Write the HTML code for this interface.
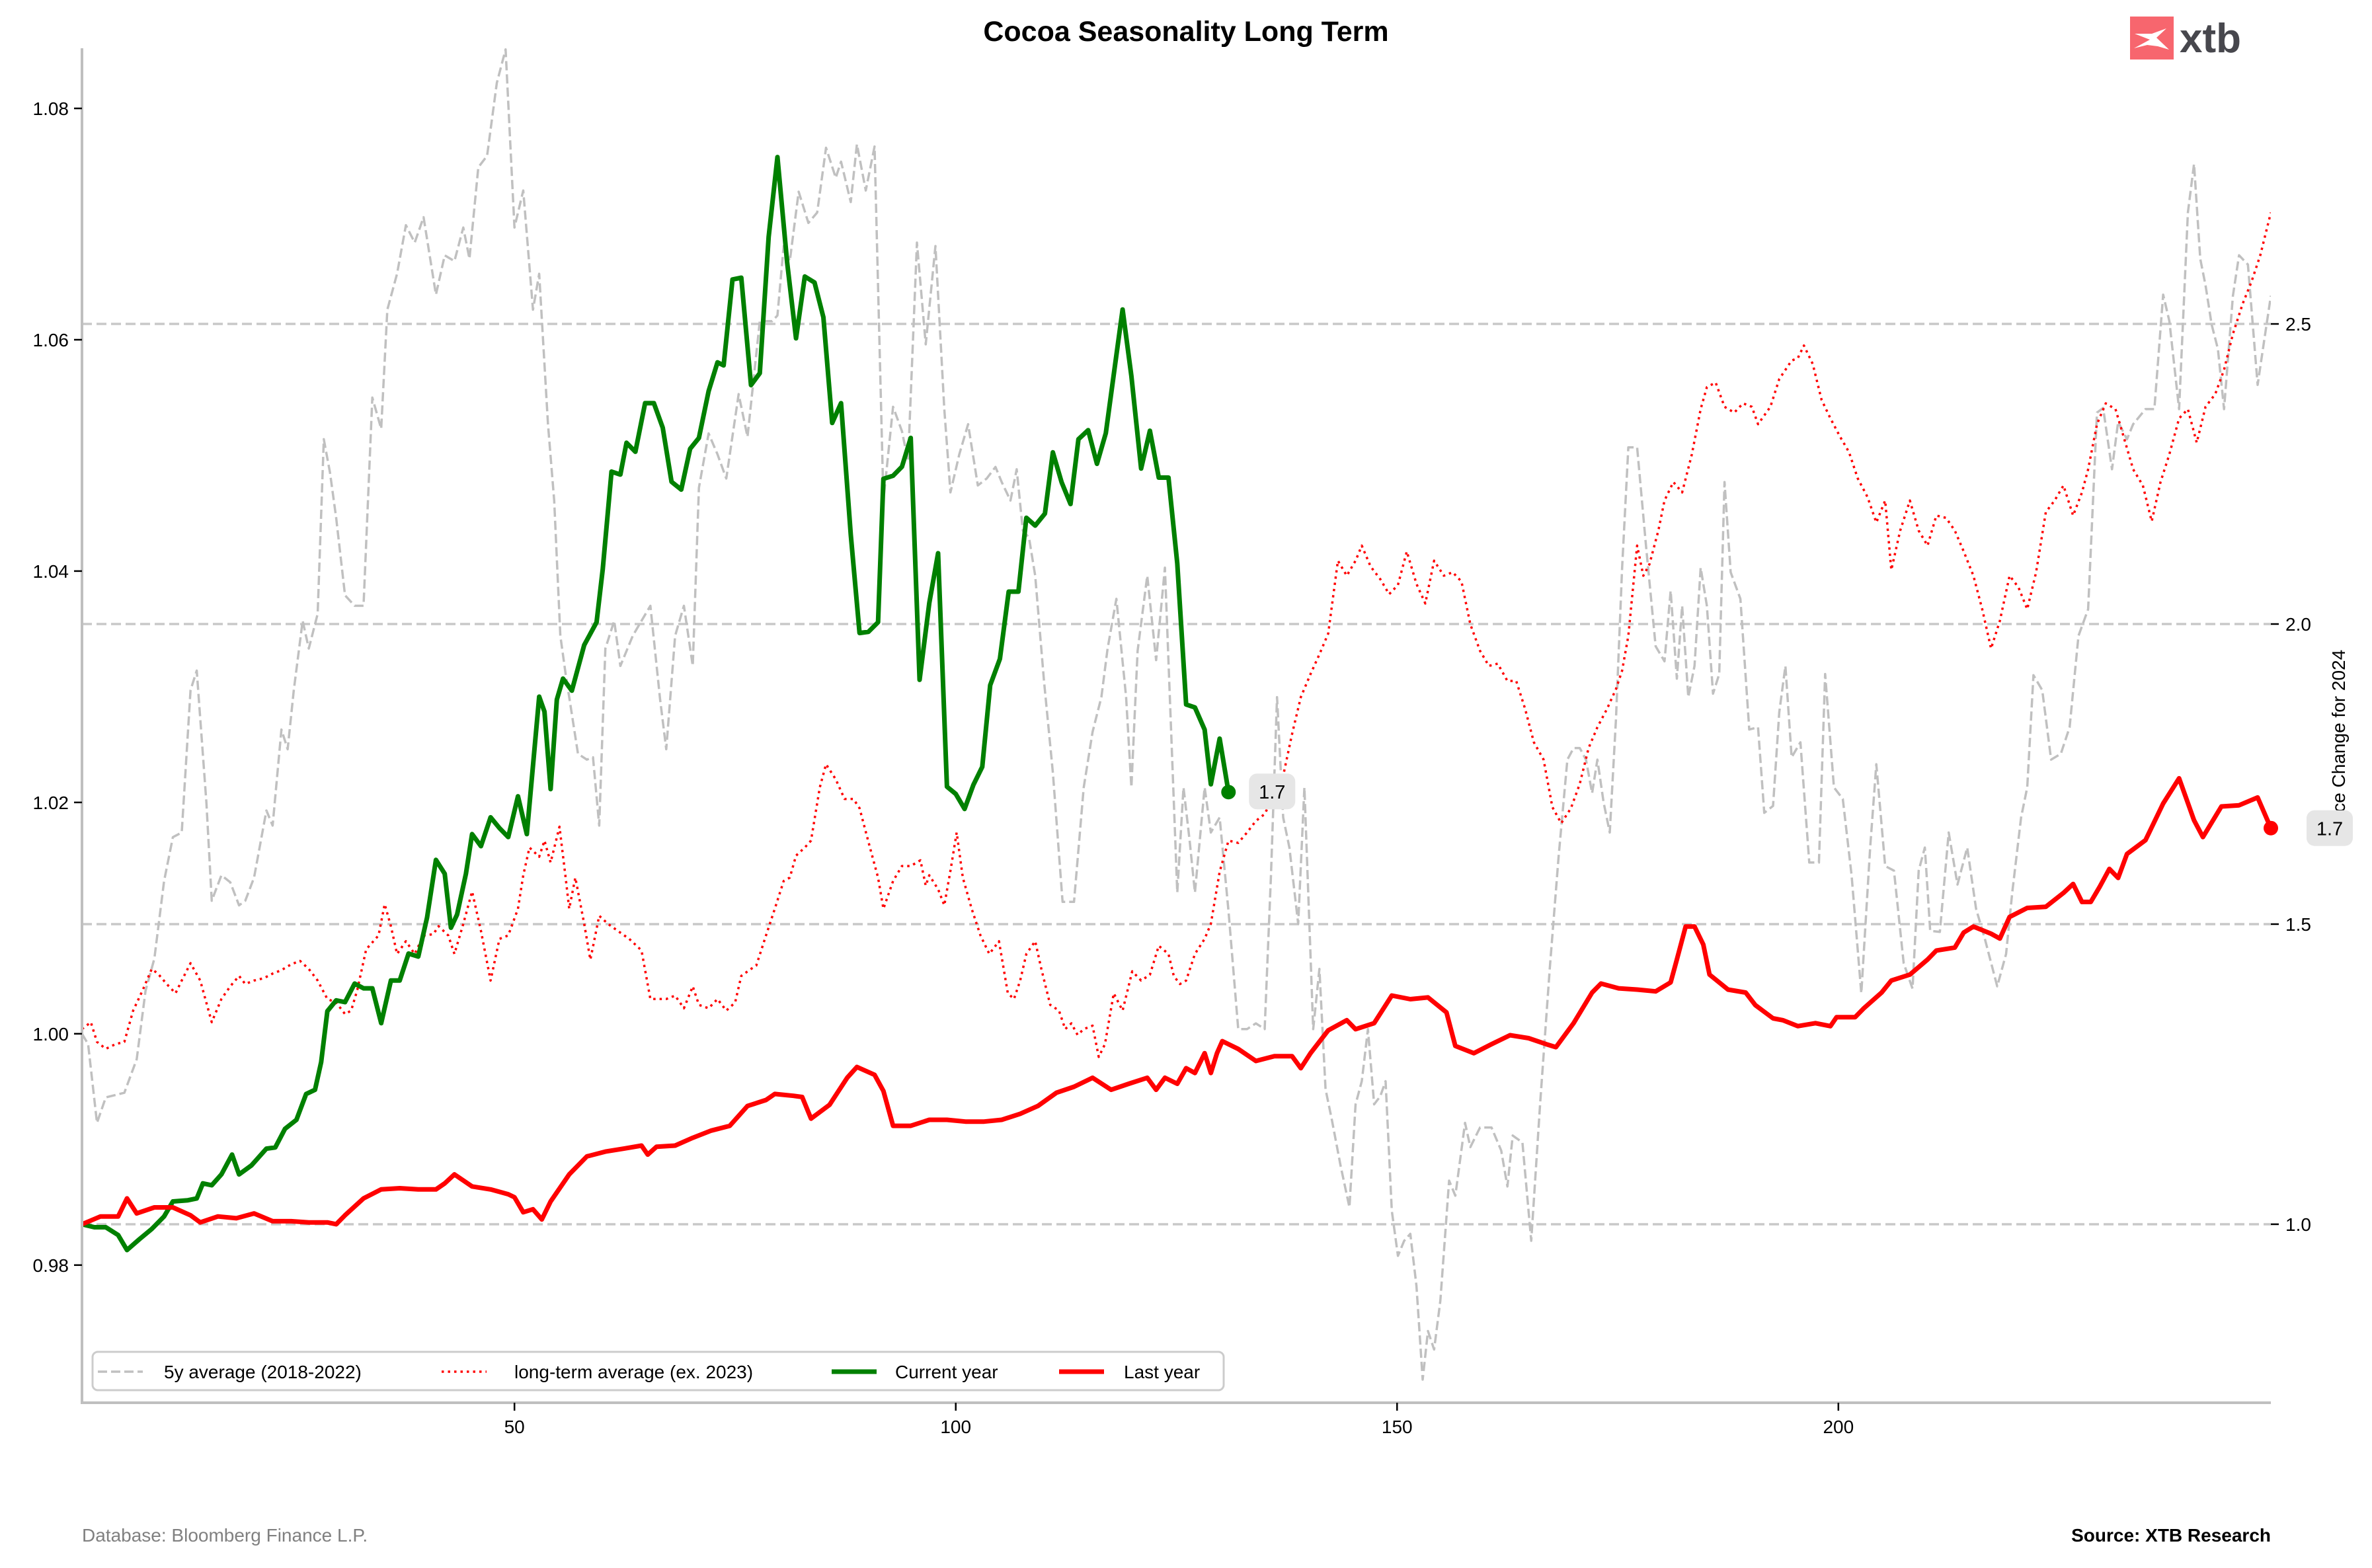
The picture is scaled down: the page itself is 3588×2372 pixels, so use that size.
<!DOCTYPE html>
<html><head><meta charset="utf-8"><title>Cocoa Seasonality Long Term</title>
<style>
html,body{margin:0;padding:0;background:#fff;}
svg{display:block;font-family:"Liberation Sans",Arial,sans-serif;}
</style></head>
<body>
<svg id="chart" width="3588" height="2372" viewBox="0 0 3588 2372" xmlns="http://www.w3.org/2000/svg">
<defs><clipPath id="plotclip"><rect x="124" y="73" width="3311" height="2049"/></clipPath></defs>
<rect width="3588" height="2372" fill="#fff"/>
<g id="grid"></g>
<g id="series" clip-path="url(#plotclip)"></g>
<g id="axes"></g>
<text x="1794" y="62" text-anchor="middle" font-size="43" font-weight="bold" fill="#000">Cocoa Seasonality Long Term</text>
<g>
<rect x="3222" y="25" width="66" height="65" fill="#f7666e"/>
<path d="M3228 73 L3252 60 L3229 51 L3255 51 L3277 43 L3262 57 L3281 75 L3264 70 L3248 68 Z" fill="#fff"/>
<text x="3297" y="79" font-size="62" font-weight="bold" fill="#47474d">xtb</text>
</g>
<text x="124" y="2332" font-size="28" fill="#808080">Database: Bloomberg Finance L.P.</text>
<text x="3435" y="2332" text-anchor="end" font-size="28" font-weight="bold" fill="#000">Source: XTB Research</text>
<g id="legend"></g>
<g id="annot"></g>
</svg>
<script>
// ===== data =====
const currentDays = [1.0,2.4,3.7,5.1,6.1,7.5,8.9,10.3,11.3,13.0,14.0,14.7,15.7,16.8,18.0,18.8,20.2,21.9,22.9,24.0,25.3,26.4,27.4,28.1,28.8,29.8,30.8,31.9,32.9,33.9,34.9,36.0,37.0,38.0,39.1,40.1,41.1,42.1,42.8,43.5,44.5,45.2,46.2,47.3,48.3,49.3,50.4,51.4,52.8,53.4,54.1,54.8,55.5,56.5,57.9,59.3,60.0,61.0,62.0,62.7,63.7,64.8,65.8,66.8,67.8,68.9,69.9,70.9,72.0,73.0,73.7,74.7,75.7,76.8,77.8,78.8,79.8,80.9,81.9,82.9,84.0,85.0,86.0,87.0,88.1,89.1,90.1,91.2,91.8,92.9,93.9,94.9,95.9,97.0,98.0,99.0,100.0,101.0,102.0,103.0,103.9,105.0,106.0,107.1,108.0,109.0,110.1,111.0,112.0,113.0,113.9,115.0,116.0,117.0,118.2,118.9,119.9,121.0,122.0,123.0,124.1,125.1,126.1,127.1,128.2,128.9,129.9,130.9];
const currentVals = [1.000,0.995,0.995,0.982,0.957,0.975,0.992,1.013,1.038,1.040,1.043,1.068,1.065,1.083,1.116,1.083,1.098,1.126,1.128,1.159,1.174,1.217,1.224,1.270,1.355,1.373,1.370,1.401,1.393,1.393,1.335,1.406,1.406,1.451,1.446,1.511,1.607,1.584,1.494,1.516,1.584,1.650,1.630,1.678,1.660,1.645,1.713,1.650,1.879,1.854,1.725,1.874,1.909,1.889,1.965,2.003,2.091,2.254,2.249,2.302,2.287,2.368,2.368,2.327,2.237,2.224,2.292,2.310,2.388,2.436,2.431,2.574,2.577,2.398,2.418,2.645,2.778,2.602,2.476,2.579,2.569,2.511,2.335,2.368,2.149,1.985,1.987,2.003,2.242,2.247,2.262,2.310,1.907,2.035,2.118,1.729,1.717,1.692,1.732,1.762,1.898,1.942,2.054,2.054,2.177,2.164,2.184,2.286,2.236,2.200,2.308,2.323,2.267,2.318,2.448,2.524,2.413,2.259,2.322,2.244,2.244,2.101,1.866,1.861,1.824,1.733,1.809,1.720];

const lastDays = [1.0,3.1,5.1,6.1,7.2,9.2,11.3,13.3,14.4,16.4,18.5,20.5,22.6,24.7,26.7,28.8,29.8,30.8,32.9,34.9,37.0,39.1,41.1,42.1,43.2,45.2,47.3,49.3,50.0,51.0,52.1,53.1,54.1,56.2,58.2,60.3,62.4,64.4,65.1,66.1,68.2,70.2,72.3,74.4,76.4,78.5,79.5,81.6,82.6,83.6,85.7,87.7,88.8,90.8,91.8,92.9,94.9,97.0,99.0,101.1,103.2,105.2,107.3,109.3,111.4,113.4,115.5,117.6,119.6,121.7,122.7,123.7,125.1,126.1,127.1,128.2,128.9,129.6,130.2,132.0,134.0,136.1,138.1,139.1,140.2,142.2,144.3,145.3,147.4,149.4,151.5,153.5,155.6,156.6,158.7,160.7,162.8,164.9,166.9,168.0,170.0,172.1,173.1,175.1,177.2,179.3,181.0,181.7,182.7,183.7,184.7,185.4,187.5,189.5,190.6,192.6,193.7,195.4,197.4,199.1,199.8,201.9,202.9,204.9,206.0,208.1,210.1,211.1,213.2,214.2,215.3,217.3,218.3,219.4,221.4,223.5,225.5,226.6,227.6,228.6,229.6,230.7,231.7,232.7,234.8,236.8,238.6,240.3,241.3,243.4,245.4,247.5,249.0];
const lastVals = [1.000,1.013,1.013,1.043,1.018,1.028,1.028,1.015,1.003,1.013,1.010,1.018,1.005,1.005,1.003,1.003,1.000,1.015,1.043,1.058,1.060,1.058,1.058,1.068,1.083,1.063,1.058,1.050,1.045,1.020,1.025,1.008,1.038,1.083,1.113,1.121,1.126,1.131,1.116,1.129,1.131,1.144,1.156,1.164,1.197,1.207,1.217,1.214,1.212,1.176,1.199,1.244,1.262,1.249,1.222,1.164,1.164,1.174,1.174,1.171,1.171,1.174,1.184,1.197,1.219,1.229,1.244,1.224,1.234,1.244,1.224,1.244,1.234,1.260,1.252,1.285,1.252,1.285,1.305,1.292,1.272,1.280,1.280,1.260,1.285,1.323,1.340,1.325,1.335,1.381,1.375,1.378,1.353,1.297,1.285,1.300,1.315,1.310,1.300,1.295,1.335,1.386,1.401,1.393,1.391,1.388,1.403,1.441,1.496,1.496,1.466,1.416,1.391,1.386,1.365,1.343,1.340,1.330,1.335,1.330,1.345,1.345,1.360,1.386,1.406,1.416,1.441,1.456,1.461,1.486,1.496,1.484,1.476,1.512,1.527,1.529,1.552,1.567,1.537,1.537,1.562,1.592,1.577,1.617,1.640,1.701,1.743,1.673,1.645,1.696,1.698,1.711,1.660];

const fiveYDays = [1.0,1.7,2.7,3.7,5.8,7.2,8.2,9.2,10.3,11.3,12.3,13.3,14.0,15.1,15.7,16.8,17.8,18.8,19.5,20.5,21.9,22.6,23.6,24.3,25.0,26.0,26.7,27.7,28.4,29.1,29.8,30.8,31.9,32.9,33.9,34.9,35.6,36.7,37.7,38.7,39.7,41.1,42.1,43.2,44.2,44.9,45.9,46.9,48.0,49.0,50.0,51.0,52.1,52.8,53.8,54.5,55.2,55.8,57.2,58.2,58.9,59.6,60.3,61.3,62.0,63.4,64.4,65.4,66.5,67.2,68.2,69.2,70.2,70.9,72.0,73.0,74.0,75.4,76.4,77.8,79.2,79.8,80.5,81.2,82.2,83.3,84.3,85.3,86.4,87.0,88.1,88.8,89.8,90.8,91.8,92.9,93.9,94.6,95.6,96.6,97.7,98.7,99.4,100.4,101.4,102.5,103.5,104.5,105.2,106.2,106.9,107.6,108.3,109.0,110.0,111.0,112.1,113.4,114.5,115.5,116.5,117.2,118.2,119.3,119.9,120.6,121.7,122.7,123.7,125.1,125.8,126.5,127.1,128.2,128.9,129.9,130.9,132.0,133.0,134.0,135.0,135.7,136.4,137.1,137.8,138.8,139.5,140.5,141.2,141.9,142.6,143.6,144.6,145.3,146.0,146.7,147.4,148.1,148.7,149.4,150.1,150.8,151.5,152.2,152.9,153.5,154.2,154.9,155.9,156.6,157.7,158.3,159.4,160.7,161.8,162.5,163.1,164.2,165.2,166.2,167.3,168.3,169.3,170.0,170.7,171.4,172.1,172.7,173.4,174.1,174.8,175.5,176.2,177.2,178.2,179.3,180.3,181.0,181.7,182.3,183.0,183.7,184.4,185.1,185.8,186.5,187.1,187.8,188.9,189.9,190.9,191.6,192.6,193.3,194.0,194.7,195.7,196.7,197.8,198.5,199.5,200.5,201.5,202.6,203.6,204.3,205.3,206.3,207.4,208.4,209.1,209.8,210.4,211.5,212.5,213.5,214.6,215.6,216.6,218.0,219.0,219.7,220.7,221.4,222.1,223.1,224.1,225.2,226.2,227.2,228.3,229.3,230.0,231.0,231.7,232.7,233.4,234.8,235.8,236.8,237.5,238.6,239.6,240.3,241.0,241.6,242.3,243.0,243.7,244.7,245.4,246.4,247.5,248.2,249.0];
const fiveYVals = [1.0000,0.9991,0.9923,0.9945,0.9949,0.9978,1.0037,1.0065,1.0132,1.0170,1.0174,1.0297,1.0314,1.0200,1.0115,1.0137,1.0131,1.0111,1.0115,1.0135,1.0193,1.0180,1.0263,1.0246,1.0297,1.0357,1.0333,1.0363,1.0514,1.0485,1.0446,1.0379,1.0370,1.0370,1.0550,1.0523,1.0626,1.0657,1.0699,1.0684,1.0706,1.0639,1.0673,1.0668,1.0697,1.0670,1.0749,1.0759,1.0822,1.0851,1.0697,1.0729,1.0626,1.0657,1.0527,1.0461,1.0344,1.0311,1.0242,1.0237,1.0239,1.0180,1.0333,1.0357,1.0318,1.0344,1.0357,1.0370,1.0289,1.0246,1.0344,1.0370,1.0318,1.0472,1.0519,1.0501,1.0480,1.0553,1.0516,1.0616,1.0616,1.0621,1.0681,1.0668,1.0728,1.0701,1.0710,1.0766,1.0740,1.0754,1.0719,1.0769,1.0729,1.0767,1.0461,1.0542,1.0521,1.0495,1.0684,1.0596,1.0681,1.0540,1.0468,1.0501,1.0527,1.0474,1.0480,1.0490,1.0477,1.0461,1.0488,1.0435,1.0429,1.0396,1.0305,1.0226,1.0114,1.0114,1.0213,1.0261,1.0291,1.0333,1.0376,1.0291,1.0213,1.0331,1.0396,1.0323,1.0403,1.0122,1.0213,1.0167,1.0122,1.0213,1.0174,1.0187,1.0106,1.0004,1.0004,1.0009,1.0004,1.0135,1.0291,1.0187,1.0161,1.0095,1.0213,1.0004,1.0056,0.9952,0.9926,0.9886,0.9850,0.9939,0.9959,1.0004,0.9939,0.9946,0.9959,0.9847,0.9808,0.9821,0.9827,0.9782,0.9701,0.9743,0.9727,0.9769,0.9873,0.9860,0.9923,0.9902,0.9919,0.9919,0.9899,0.9868,0.9912,0.9906,0.9821,0.9939,1.0056,1.0153,1.0237,1.0247,1.0247,1.0237,1.0208,1.0237,1.0200,1.0174,1.0272,1.0403,1.0507,1.0507,1.0422,1.0335,1.0322,1.0383,1.0307,1.0370,1.0291,1.0318,1.0403,1.0370,1.0294,1.0311,1.0477,1.0399,1.0376,1.0263,1.0265,1.0191,1.0197,1.0278,1.0318,1.0239,1.0252,1.0148,1.0148,1.0311,1.0213,1.0203,1.0137,1.0035,1.0161,1.0233,1.0145,1.0141,1.0061,1.0039,1.0141,1.0161,1.0089,1.0088,1.0174,1.0129,1.0161,1.0108,1.0082,1.0041,1.0069,1.0122,1.0187,1.0213,1.0310,1.0297,1.0237,1.0242,1.0265,1.0344,1.0367,1.0537,1.0541,1.0488,1.0529,1.0514,1.0527,1.0540,1.0540,1.0639,1.0616,1.0540,1.0710,1.0752,1.0670,1.0647,1.0613,1.0592,1.0540,1.0638,1.0673,1.0665,1.0561,1.0597,1.0638];

const longDays = [1.0,2.0,2.7,3.7,4.8,5.8,6.8,7.9,8.9,9.6,10.6,11.6,12.3,13.3,14.4,15.7,16.8,17.8,18.8,19.5,20.5,21.6,22.6,23.6,24.7,25.7,26.7,27.7,28.8,29.8,30.8,31.5,32.2,33.2,34.6,35.3,36.0,36.7,37.7,38.7,39.7,40.8,41.4,42.5,43.2,44.2,45.2,46.2,47.3,48.3,49.3,50.4,51.0,51.7,52.8,53.4,54.1,55.1,55.8,56.2,56.9,57.9,58.6,59.6,60.6,61.7,63.0,64.4,65.4,66.1,67.2,68.2,69.2,70.2,70.9,72.0,73.0,74.0,75.0,75.7,76.8,77.4,78.5,79.5,80.5,81.2,81.9,82.9,83.6,84.6,85.3,86.4,87.4,88.4,89.1,90.1,91.2,91.8,92.9,93.9,94.9,96.0,96.6,97.0,98.0,98.7,99.4,100.1,100.8,101.8,102.8,103.8,104.9,105.9,106.6,107.3,108.0,109.0,109.7,110.7,111.7,112.4,113.1,113.8,114.5,115.5,116.2,116.9,117.9,118.9,120.0,121.0,122.0,123.0,124.1,124.7,125.4,126.1,127.1,128.2,128.9,129.9,130.9,132.0,133.0,134.0,135.0,136.1,137.1,138.1,139.1,140.2,141.2,142.2,143.3,144.3,145.3,146.0,147.0,148.1,149.1,150.1,151.1,152.2,153.2,154.2,155.3,156.3,157.3,158.3,159.4,160.4,161.4,162.5,163.5,164.5,165.5,166.6,167.6,168.6,169.7,170.7,171.7,172.7,173.8,174.8,175.5,176.2,177.2,177.9,178.6,179.6,180.3,181.3,182.3,183.4,184.4,185.1,186.1,187.1,188.2,189.2,190.2,190.9,192.3,193.3,194.7,195.4,196.1,197.1,198.1,199.1,200.2,201.2,202.2,203.3,204.3,205.3,206.0,207.0,208.1,209.1,210.1,211.1,212.2,213.2,214.2,215.3,216.3,217.3,218.3,219.4,220.4,221.4,222.4,223.5,224.5,225.5,226.6,227.6,228.3,229.3,230.3,231.4,232.4,233.4,234.5,235.5,236.5,237.5,238.6,239.6,240.6,241.6,242.7,243.7,244.7,245.8,246.8,247.8,249.0];
const longVals = [1.0004,1.0010,0.9993,0.9987,0.9991,0.9993,1.0020,1.0038,1.0056,1.0052,1.0043,1.0035,1.0046,1.0061,1.0046,1.0010,1.0030,1.0041,1.0050,1.0043,1.0046,1.0048,1.0052,1.0055,1.0060,1.0063,1.0056,1.0046,1.0030,1.0027,1.0017,1.0020,1.0038,1.0073,1.0085,1.0112,1.0093,1.0069,1.0080,1.0069,1.0085,1.0086,1.0093,1.0085,1.0069,1.0095,1.0123,1.0089,1.0046,1.0082,1.0085,1.0108,1.0137,1.0161,1.0153,1.0167,1.0148,1.0179,1.0135,1.0108,1.0135,1.0095,1.0064,1.0102,1.0095,1.0089,1.0082,1.0072,1.0030,1.0030,1.0030,1.0033,1.0022,1.0041,1.0025,1.0022,1.0030,1.0020,1.0027,1.0050,1.0056,1.0059,1.0085,1.0108,1.0132,1.0135,1.0154,1.0161,1.0167,1.0213,1.0233,1.0220,1.0203,1.0203,1.0195,1.0166,1.0135,1.0108,1.0132,1.0145,1.0145,1.0150,1.0128,1.0137,1.0125,1.0111,1.0141,1.0174,1.0135,1.0108,1.0085,1.0069,1.0080,1.0035,1.0030,1.0046,1.0069,1.0080,1.0056,1.0025,1.0020,1.0004,1.0009,0.9999,1.0004,1.0007,0.9980,0.9991,1.0035,1.0020,1.0054,1.0046,1.0051,1.0076,1.0069,1.0050,1.0043,1.0046,1.0069,1.0082,1.0095,1.0140,1.0167,1.0165,1.0174,1.0184,1.0190,1.0207,1.0223,1.0259,1.0291,1.0311,1.0328,1.0346,1.0409,1.0396,1.0409,1.0422,1.0404,1.0393,1.0380,1.0388,1.0417,1.0389,1.0372,1.0409,1.0396,1.0399,1.0391,1.0354,1.0331,1.0318,1.0320,1.0305,1.0305,1.0281,1.0252,1.0237,1.0196,1.0182,1.0195,1.0216,1.0247,1.0265,1.0281,1.0298,1.0314,1.0344,1.0422,1.0396,1.0406,1.0435,1.0461,1.0477,1.0468,1.0501,1.0540,1.0559,1.0563,1.0542,1.0537,1.0545,1.0542,1.0527,1.0542,1.0566,1.0582,1.0584,1.0595,1.0579,1.0548,1.0532,1.0516,1.0503,1.0480,1.0464,1.0442,1.0461,1.0401,1.0435,1.0461,1.0435,1.0422,1.0448,1.0446,1.0435,1.0417,1.0396,1.0367,1.0333,1.0357,1.0396,1.0386,1.0367,1.0399,1.0451,1.0461,1.0474,1.0448,1.0468,1.0488,1.0527,1.0545,1.0540,1.0514,1.0488,1.0474,1.0443,1.0477,1.0501,1.0532,1.0540,1.0511,1.0542,1.0553,1.0574,1.0605,1.0631,1.0650,1.0673,1.0710];

const xTicks = [50,100,150,200];
const leftTicks = [0.98,1.00,1.02,1.04,1.06,1.08];
const leftTickLabels = ["0.98","1.00","1.02","1.04","1.06","1.08"];
const rightTicks = [1.0,1.5,2.0,2.5];
const rightTickLabels = ["1.0","1.5","2.0","2.5"];

// ===== axes =====
const PL=124, PR=3435, PT=73, PB=2122;
const X0=1, X1=249;
const L0=0.9681, L1=1.0852;
const R0=0.7026, R1=2.9593;
function xs(d){return PL+(d-X0)*(PR-PL)/(X1-X0);}
function yl(v){return PB-(v-L0)*(PB-PT)/(L1-L0);}
function yr(v){return PB-(v-R0)*(PB-PT)/(R1-R0);}
const NS="http://www.w3.org/2000/svg";
function mk(tag,attrs,parent){const e=document.createElementNS(NS,tag);for(const k in attrs)e.setAttribute(k,attrs[k]);parent.appendChild(e);return e;}

const grid=document.getElementById('grid');
rightTicks.forEach(function(t){
  const g=mk('line',{x1:PL,x2:PR,y1:yr(t),y2:yr(t),stroke:'#c8c8c8','stroke-width':3.5,'stroke-dasharray':'15 7'},grid);
  
  
});

const series=document.getElementById('series');
function line(days,vals,yf,style,name){
  const pts=days.map(function(d,i){return xs(d).toFixed(1)+','+yf(vals[i]).toFixed(1);}).join(' ');
  const a=Object.assign({points:pts,fill:'none','stroke-linejoin':'round'},style);
  const p=mk('polyline',a,series);
  
  
  return p;
}
line(fiveYDays,fiveYVals,yl,{stroke:'#c0c0c0','stroke-width':3.5,'stroke-dasharray':'14 6'},'five-year-average-line');
line(longDays,longVals,yl,{stroke:'#ff0000','stroke-width':3.5,'stroke-dasharray':'3.5 6'},'long-term-average-line');
line(currentDays,currentVals,yr,{stroke:'#008000','stroke-width':7},'current-year-line');
line(lastDays,lastVals,yr,{stroke:'#ff0000','stroke-width':7},'last-year-line');

const axes=document.getElementById('axes');
let e;
e=mk('line',{x1:PL,x2:PL,y1:PT,y2:PB,stroke:'#bfbfbf','stroke-width':4},axes);


e=mk('line',{x1:PL-2,x2:PR,y1:PB,y2:PB,stroke:'#bfbfbf','stroke-width':4},axes);


xTicks.forEach(function(t){
  e=mk('line',{x1:xs(t),x2:xs(t),y1:PB,y2:PB+12,stroke:'#000','stroke-width':2.5},axes);
  
  
  e=mk('text',{x:xs(t),y:PB+46,'text-anchor':'middle','font-size':28,fill:'#000'},axes);
  e.textContent=String(t);
  
  
});
leftTicks.forEach(function(t,i){
  e=mk('line',{x1:PL-12,x2:PL,y1:yl(t),y2:yl(t),stroke:'#000','stroke-width':2.5},axes);
  
  
  e=mk('text',{x:PL-20,y:yl(t)+10,'text-anchor':'end','font-size':28,fill:'#000'},axes);
  e.textContent=leftTickLabels[i];
  
  
});
rightTicks.forEach(function(t,i){
  e=mk('line',{x1:PR,x2:PR+12,y1:yr(t),y2:yr(t),stroke:'#000','stroke-width':2.5},axes);
  
  
  e=mk('text',{x:PR+22,y:yr(t)+10,'text-anchor':'start','font-size':28,fill:'#000'},axes);
  e.textContent=rightTickLabels[i];
  
  
});
e=mk('text',{x:0,y:0,'font-size':28,fill:'#000',transform:'translate(3547,1263) rotate(-90)'},axes);
e.textContent='Price Change for 2024';



// ===== end annotations =====
const annot=document.getElementById('annot');
const cEndD=currentDays[currentDays.length-1], cEndV=currentVals[currentVals.length-1];
const lEndD=lastDays[lastDays.length-1], lEndV=lastVals[lastVals.length-1];
e=mk('circle',{cx:xs(cEndD),cy:yr(cEndV),r:11,fill:'#008000'},annot);


e=mk('rect',{x:xs(cEndD)+31,y:yr(cEndV)-28,width:70,height:54,rx:12,fill:'#e6e6e6'},annot);


e=mk('text',{x:xs(cEndD)+66,y:yr(cEndV)+10,'text-anchor':'middle','font-size':29,fill:'#000'},annot);
e.textContent=cEndV.toFixed(1);


e=mk('circle',{cx:xs(lEndD),cy:yr(lEndV),r:11,fill:'#ff0000'},annot);


e=mk('rect',{x:3489,y:yr(lEndV)-27,width:70,height:54,rx:12,fill:'#e6e6e6'},annot);


e=mk('text',{x:3524,y:yr(lEndV)+11,'text-anchor':'middle','font-size':29,fill:'#000'},annot);
e.textContent=lEndV.toFixed(1);



// ===== legend =====
const lg=document.getElementById('legend');
e=mk('rect',{x:140,y:2045,width:1711,height:58,rx:8,fill:'#fff',stroke:'#cccccc','stroke-width':3},lg);


const legendLabels=["5y average (2018-2022)","long-term average (ex. 2023)","Current year","Last year"];
const legendX=[148,668,1258,1602];
const legendTextX=[248,778,1354,1700];
const legendStyles=[
  {stroke:'#c0c0c0','stroke-width':3.5,'stroke-dasharray':'14 6'},
  {stroke:'#ff0000','stroke-width':3.5,'stroke-dasharray':'3.5 6'},
  {stroke:'#008000','stroke-width':7},
  {stroke:'#ff0000','stroke-width':7}];
legendLabels.forEach(function(lbl,i){
  const s=Object.assign({x1:legendX[i],x2:legendX[i]+68,y1:2075,y2:2075},legendStyles[i]);
  e=mk('line',s,lg);
  
  
  e=mk('text',{x:legendTextX[i],y:2085,'font-size':28,fill:'#000'},lg);
  e.textContent=lbl;
  
  
});
</script>
</body></html>
